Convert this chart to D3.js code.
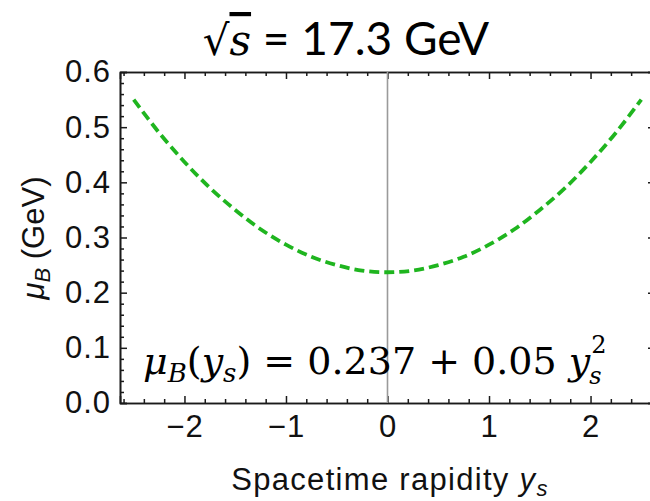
<!DOCTYPE html>
<html>
<head>
<meta charset="utf-8">
<script src="https://cdn.jsdelivr.net/npm/d3@7"></script>
<style>
  body { margin: 0; background: #fff; }
  svg { display: block; }
</style>
</head>
<body>
<svg id="chart"></svg>
<script>
// values
const rapidity = [-2.5, -2.25, -2.0, -1.75, -1.5, -1.25, -1.0, -0.75, -0.5, -0.25, 0.0,
                  0.25, 0.5, 0.75, 1.0, 1.25, 1.5, 1.75, 2.0, 2.25, 2.5];
const muB = [0.550, 0.490, 0.437, 0.390, 0.350, 0.315, 0.287, 0.265, 0.250, 0.240, 0.237,
             0.240, 0.250, 0.265, 0.287, 0.315, 0.350, 0.390, 0.437, 0.490, 0.550];
const xTicks = [-2, -1, 0, 1, 2];
const xTickLabels = ["\u22122", "\u22121", "0", "1", "2"];
const yTicks = [0.0, 0.1, 0.2, 0.3, 0.4, 0.5, 0.6];
const yTickLabels = ["0.0", "0.1", "0.2", "0.3", "0.4", "0.5", "0.6"];

const width = 650, height = 501;
const margin = {top: 72, left: 120, bottom: 98};
const xRange = [margin.left, 655];

const svg = d3.select("#chart")
    .attr("width", width)
    .attr("height", height);

let x = d3.scaleLinear()
    .domain([-2.635, 2.635])
    .range(xRange);

let y = d3.scaleLinear()
    .domain([0, 0.6])
    .range([height - margin.bottom, margin.top]);

const x0 = xRange[0], x1 = xRange[1], yb = y(0), yt = y(0.6);

// minor ticks
let xMinor = d3.range(-26, 27, 2).map(d => d / 10).filter(d => Math.round(d * 10) % 10 != 0);
let yMinor = d3.range(0, 61, 2).map(d => d / 100).filter(d => Math.round(d * 100) % 10 != 0);

function styleAxis(g) {
    g.select(".domain").attr("stroke", "#1a1a1a").attr("stroke-width", 1.6);
    g.selectAll(".tick line").attr("stroke", "#1a1a1a").attr("stroke-width", 1.5);
    g.selectAll("text")
        .attr("fill", "#111")
        .style("font-family", "'Liberation Sans', Arial, sans-serif")
        .style("font-size", "31px")
        .style("letter-spacing", "1px");
}

// bottom
svg.append("g")
    .attr("transform", "translate(0," + yb + ")")
    .call(d3.axisBottom(x).tickValues(xTicks).tickFormat((d, i) => xTickLabels[i]).tickSize(-7).tickPadding(12))
    .call(styleAxis);
svg.append("g")
    .attr("transform", "translate(0," + yb + ")")
    .call(d3.axisBottom(x).tickValues(xMinor).tickFormat("").tickSize(-4).tickSizeOuter(0))
    .call(styleAxis);
// top
svg.append("g")
    .attr("transform", "translate(0," + yt + ")")
    .call(d3.axisTop(x).tickValues(xTicks).tickFormat("").tickSize(-7))
    .call(styleAxis);
svg.append("g")
    .attr("transform", "translate(0," + yt + ")")
    .call(d3.axisTop(x).tickValues(xMinor).tickFormat("").tickSize(-4).tickSizeOuter(0))
    .call(styleAxis);
// left
svg.append("g")
    .attr("transform", "translate(" + x0 + ",0)")
    .call(d3.axisLeft(y).tickValues(yTicks).tickFormat((d, i) => yTickLabels[i]).tickSize(-7).tickPadding(9))
    .call(styleAxis);
svg.append("g")
    .attr("transform", "translate(" + x0 + ",0)")
    .call(d3.axisLeft(y).tickValues(yMinor).tickFormat("").tickSize(-4).tickSizeOuter(0))
    .call(styleAxis);
// right
svg.append("g")
    .attr("transform", "translate(" + x1 + ",0)")
    .call(d3.axisRight(y).tickValues(yTicks).tickFormat("").tickSize(-7))
    .call(styleAxis);
svg.append("g")
    .attr("transform", "translate(" + x1 + ",0)")
    .call(d3.axisRight(y).tickValues(yMinor).tickFormat("").tickSize(-4).tickSizeOuter(0))
    .call(styleAxis);

// y axis line at zero rapidity
svg.append("line")
    .attr("x1", x(0)).attr("x2", x(0))
    .attr("y1", yt).attr("y2", yb)
    .attr("stroke", "#9a9a9a")
    .attr("stroke-width", 1.6);

// curve
let data = rapidity.map((d, i) => ({ys: d, mu: muB[i]}));
svg.append("path")
    .datum(data)
    .attr("fill", "none")
    .attr("stroke", "#1fb51f")
    .attr("stroke-width", 3.8)
    .attr("stroke-dasharray", "10,5")
    .attr("d", d3.line().x(d => x(d.ys)).y(d => y(d.mu)).curve(d3.curveCatmullRom));

// title
let title = svg.append("text")
    .attr("x", 346).attr("y", 55)
    .attr("text-anchor", "middle")
    .style("font-family", "Lato, 'Open Sans', sans-serif")
    .style("font-size", "46px")
    .attr("fill", "#000");
title.append("tspan").style("font-family", "'DejaVu Serif', serif").style("font-size", "42px").text("\u221A");
title.append("tspan").style("font-family", "'DejaVu Serif', serif").style("font-style", "italic")
    .style("font-size", "42px")
    .style("text-decoration", "overline").text("s");
title.append("tspan").text(" = 17.3 GeV");

// equation
let eq = svg.append("text")
    .attr("x", 143).attr("y", 374)
    .style("font-family", "'DejaVu Serif', 'Liberation Serif', serif")
    .style("font-size", "38px")
    .attr("fill", "#000");
eq.append("tspan").style("font-style", "italic").text("\u03BC");
eq.append("tspan").style("font-style", "italic").style("font-size", "26px").attr("dy", 8).text("B");
eq.append("tspan").attr("dy", -8).text("(");
eq.append("tspan").style("font-style", "italic").text("y");
eq.append("tspan").style("font-style", "italic").style("font-size", "26px").attr("dy", 8).text("s");
eq.append("tspan").attr("dy", -8).text(") = 0.237 + 0.05 ");
eq.append("tspan").style("font-style", "italic").text("y");

// stacked sup/sub on the last y
let eqEnd = eq.node().getComputedTextLength() + 143;
svg.append("text")
    .attr("x", eqEnd + 1).attr("y", 353)
    .style("font-family", "'DejaVu Serif', 'Liberation Serif', serif")
    .style("font-size", "24px")
    .text("2");
svg.append("text")
    .attr("x", eqEnd - 1).attr("y", 384)
    .style("font-family", "'DejaVu Serif', 'Liberation Serif', serif")
    .style("font-style", "italic")
    .style("font-size", "24px")
    .text("s");

// axis labels
let xl = svg.append("text")
    .attr("x", 390).attr("y", 490)
    .attr("text-anchor", "middle")
    .style("font-family", "'Liberation Sans', Arial, sans-serif")
    .style("font-size", "31px")
    .style("letter-spacing", "1.3px")
    .attr("fill", "#111");
xl.append("tspan").text("Spacetime rapidity ");
xl.append("tspan").style("font-style", "italic").text("y");
xl.append("tspan").style("font-style", "italic").style("font-size", "22px").attr("dy", 6).text("s");

let yl = svg.append("text")
    .attr("transform", "translate(44,238) rotate(-90)")
    .attr("text-anchor", "middle")
    .style("font-family", "'Liberation Sans', Arial, sans-serif")
    .style("font-size", "31px")
    .attr("fill", "#111");
yl.append("tspan").style("font-style", "italic").text("\u03BC");
yl.append("tspan").style("font-style", "italic").style("font-size", "22px").attr("dy", 6).text("B");
yl.append("tspan").attr("dy", -6).text(" (GeV)");
</script>
</body>
</html>
